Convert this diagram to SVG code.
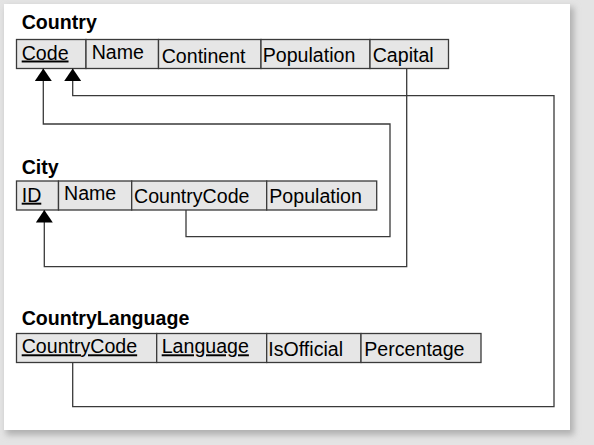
<svg xmlns="http://www.w3.org/2000/svg" width="594" height="445" viewBox="0 0 594 445">
<defs>
<filter id="sh" x="-5%" y="-5%" width="110%" height="110%"><feGaussianBlur stdDeviation="3"/></filter>
<marker id="ah" markerUnits="userSpaceOnUse" markerWidth="13" markerHeight="17" viewBox="0 0 13 17" refX="12.5" refY="8.5" orient="auto"><path d="M0,0 L12.5,8.5 L0,17 z" fill="#000"/></marker>
<style>
.cell{fill:#e6e6e6;stroke:#3a3a3a;stroke-width:1.3}
.t{font-family:"Liberation Sans",Arial,sans-serif;font-size:19.6px;fill:#000}
.h{font-family:"Liberation Sans",Arial,sans-serif;font-size:19.6px;font-weight:bold;fill:#000}
.u{text-decoration:underline}
.c{fill:none;stroke:#3a3a3a;stroke-width:1.3}
</style>
</defs>
<rect width="594" height="445" fill="#e4e4e4"/>
<rect x="6" y="7" width="568" height="428" fill="#b0b0b0" filter="url(#sh)"/>
<rect x="4" y="4" width="566" height="426" fill="#fff"/>

<g id="country">
<text class="h" x="21.7" y="29.3">Country</text>
<rect class="cell" x="16.5" y="39.5" width="69.5" height="29"/>
<rect class="cell" x="86" y="39.5" width="72.5" height="29"/>
<rect class="cell" x="158.5" y="39.5" width="102.5" height="29"/>
<rect class="cell" x="261" y="39.5" width="109" height="29"/>
<rect class="cell" x="370" y="39.5" width="78.5" height="29"/>
<text class="t u" x="21.7" y="59.5">Code</text>
<text class="t" x="91.7" y="58.5">Name</text>
<text class="t" x="161.7" y="62.5">Continent</text>
<text class="t" x="262.7" y="62">Population</text>
<text class="t" x="372.7" y="61.5">Capital</text>
</g>

<g id="city">
<text class="h" x="21.7" y="174">City</text>
<rect class="cell" x="16.5" y="181" width="42" height="29"/>
<rect class="cell" x="58.5" y="181" width="73.2" height="29"/>
<rect class="cell" x="131.7" y="181" width="135" height="29"/>
<rect class="cell" x="266.7" y="181" width="110" height="29"/>
<text class="t u" x="21.7" y="201.7">ID</text>
<text class="t" x="64" y="200">Name</text>
<text class="t" x="134" y="203.3">CountryCode</text>
<text class="t" x="269.3" y="203.3">Population</text>
</g>

<g id="countrylanguage">
<text class="h" x="21.7" y="325">CountryLanguage</text>
<rect class="cell" x="16.5" y="333.5" width="140.2" height="29"/>
<rect class="cell" x="156.7" y="333.5" width="110" height="29"/>
<rect class="cell" x="266.7" y="333.5" width="94.3" height="29"/>
<rect class="cell" x="361" y="333.5" width="120" height="29"/>
<text class="t u" x="21.7" y="353.3">CountryCode</text>
<text class="t u" x="161.7" y="353.3">Language</text>
<text class="t" x="268.3" y="356">IsOfficial</text>
<text class="t" x="364.3" y="356">Percentage</text>
</g>

<g id="connectors">
<path class="c" d="M186,210 V236.7 H390 V124 H43.3 V68.5" marker-end="url(#ah)"/>
<path class="c" d="M72.7,362.5 V406.7 H554 V95.7 H72.7 V68.5" marker-end="url(#ah)"/>
<path class="c" d="M406.7,68.5 V266.7 H44.3 V210" marker-end="url(#ah)"/>
</g>
</svg>
